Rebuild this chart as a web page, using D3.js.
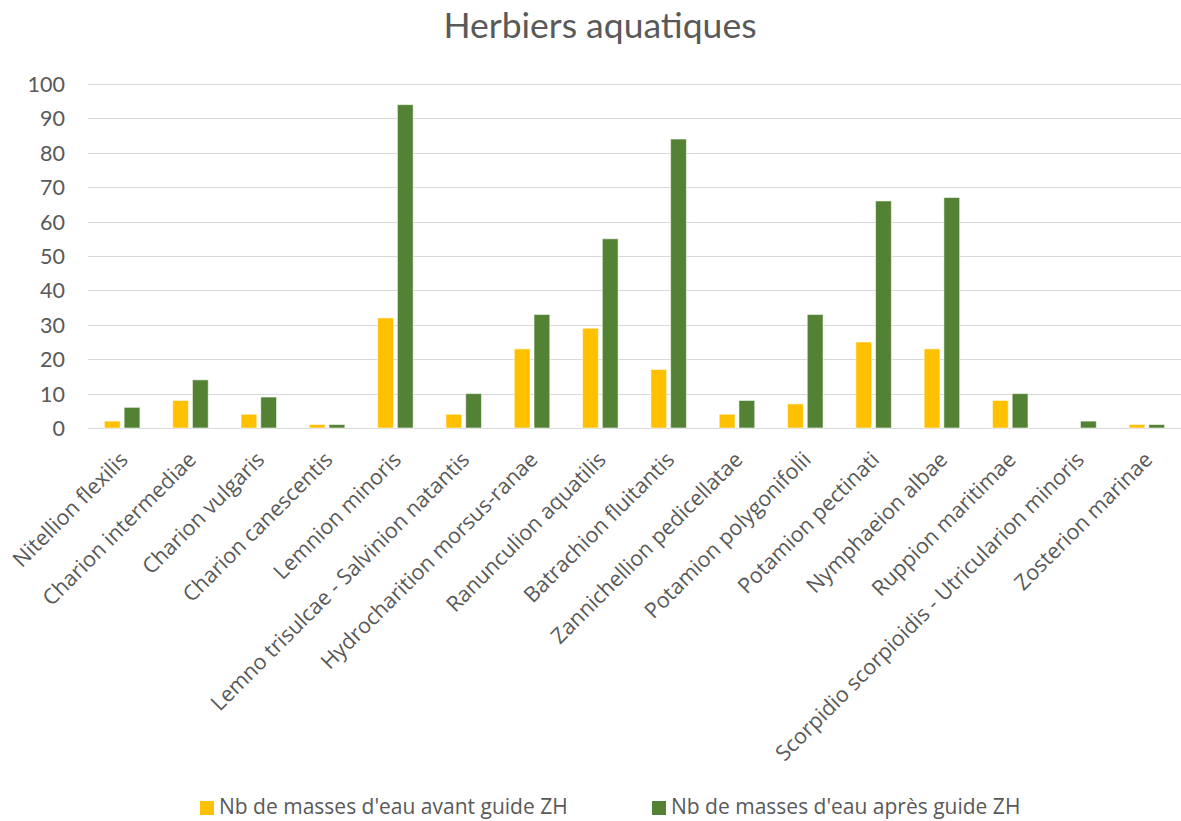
<!DOCTYPE html>
<html>
<head>
<meta charset="utf-8">
<script src="https://cdn.jsdelivr.net/npm/d3@7"></script>
<style>
  html, body { margin: 0; padding: 0; background: #fff; }
  svg { display: block; }
</style>
</head>
<body>
<svg id="chart" width="1181" height="821"></svg>
<script>
const title = "Herbiers aquatiques";
const categories = [
  "Nitellion flexilis",
  "Charion intermediae",
  "Charion vulgaris",
  "Charion canescentis",
  "Lemnion minoris",
  "Lemno trisulcae - Salvinion natantis",
  "Hydrocharition morsus-ranae",
  "Ranunculion aquatilis",
  "Batrachion fluitantis",
  "Zannichellion pedicellatae",
  "Potamion polygonifolii",
  "Potamion pectinati",
  "Nymphaeion albae",
  "Ruppion maritimae",
  "Scorpidio scorpioidis - Utricularion minoris",
  "Zosterion marinae"
];
const seriesNames = ["Nb de masses d'eau avant guide ZH", "Nb de masses d'eau après guide ZH"];
const avantValues = [2, 8, 4, 1, 32, 4, 23, 29, 17, 4, 7, 25, 23, 8, 0, 1];
const apresValues = [6, 14, 9, 1, 94, 10, 33, 55, 84, 8, 33, 66, 67, 10, 2, 1];
const yTicks = [0, 10, 20, 30, 40, 50, 60, 70, 80, 90, 100];
const colors = ["#FFC000", "#548235"];

const svg = d3.select("#chart");
const W = 1181;
const font = "Lato, 'Open Sans', sans-serif";
const labelFont = "'Open Sans', Lato, sans-serif";
const textColor = "#595959";

const plotLeft = 88, plotRight = 1181, plotTop = 84, plotBottom = 428;

const x0 = d3.scaleBand().domain(categories).range([plotLeft, plotRight])
  .paddingInner(0.48).paddingOuter(0.24);
const x1 = d3.scaleBand().domain(seriesNames).range([0, x0.bandwidth()])
  .paddingInner(0.2).paddingOuter(0);
const y = d3.scaleLinear().domain([0, 100]).range([plotBottom, plotTop]);

// Title
svg.append("text")
  .attr("x", 600).attr("y", 38)
  .attr("text-anchor", "middle")
  .attr("font-family", font)
  .attr("font-size", 35.5)
  .attr("fill", textColor)
  .text(title);

// Gridlines
svg.append("g").selectAll("line").data(yTicks).join("line")
  .attr("x1", plotLeft).attr("x2", W)
  .attr("y1", d => Math.round(y(d)) + 0.5).attr("y2", d => Math.round(y(d)) + 0.5)
  .attr("stroke", "#d9d9d9").attr("stroke-width", 1.2);

// Y axis labels
const yAxis = d3.axisLeft(y).tickValues(yTicks).tickSize(0).tickPadding(0);
const yg = svg.append("g").attr("transform", `translate(65,0)`).call(yAxis);
yg.select(".domain").remove();
yg.selectAll("text")
  .attr("font-family", font).attr("font-size", 21.5).attr("fill", textColor)
  .attr("dy", "0.35em");

// Bars
const data = categories.map((c, i) => ({ cat: c, vals: [avantValues[i], apresValues[i]] }));
const groups = svg.append("g").selectAll("g").data(data).join("g")
  .attr("transform", d => `translate(${x0(d.cat)},0)`);
groups.selectAll("rect").data(d => d.vals.map((v, j) => ({ key: seriesNames[j], v, j })))
  .join("rect")
  .attr("x", d => x1(d.key))
  .attr("width", x1.bandwidth())
  .attr("y", d => y(d.v))
  .attr("height", d => y(0) - y(d.v))
  .attr("fill", d => colors[d.j])
  .attr("stroke", "#ffffff").attr("stroke-opacity", 0.55).attr("stroke-width", 1);

// X axis labels (rotated -45)
const xg = svg.append("g");
xg.selectAll("text").data(categories).join("text")
  .attr("transform", d => `translate(${x0(d) + x0.bandwidth() / 2 + 7},${461}) rotate(-45)`)
  .attr("text-anchor", "end")
  .attr("font-family", labelFont).attr("font-size", 21.5).attr("fill", textColor)
  .text(d => d);

// Legend
const legendX = [200, 652];
const lg = svg.append("g").selectAll("g").data(seriesNames).join("g")
  .attr("transform", (d, i) => `translate(${legendX[i]},0)`);
lg.append("rect").attr("x", 0).attr("y", 801).attr("width", 14).attr("height", 14)
  .attr("fill", (d, i) => colors[i]);
lg.append("text").attr("x", 19).attr("y", 814)
  .attr("font-family", labelFont).attr("font-size", 21).attr("fill", textColor)
  .text(d => d);
</script>
</body>
</html>
